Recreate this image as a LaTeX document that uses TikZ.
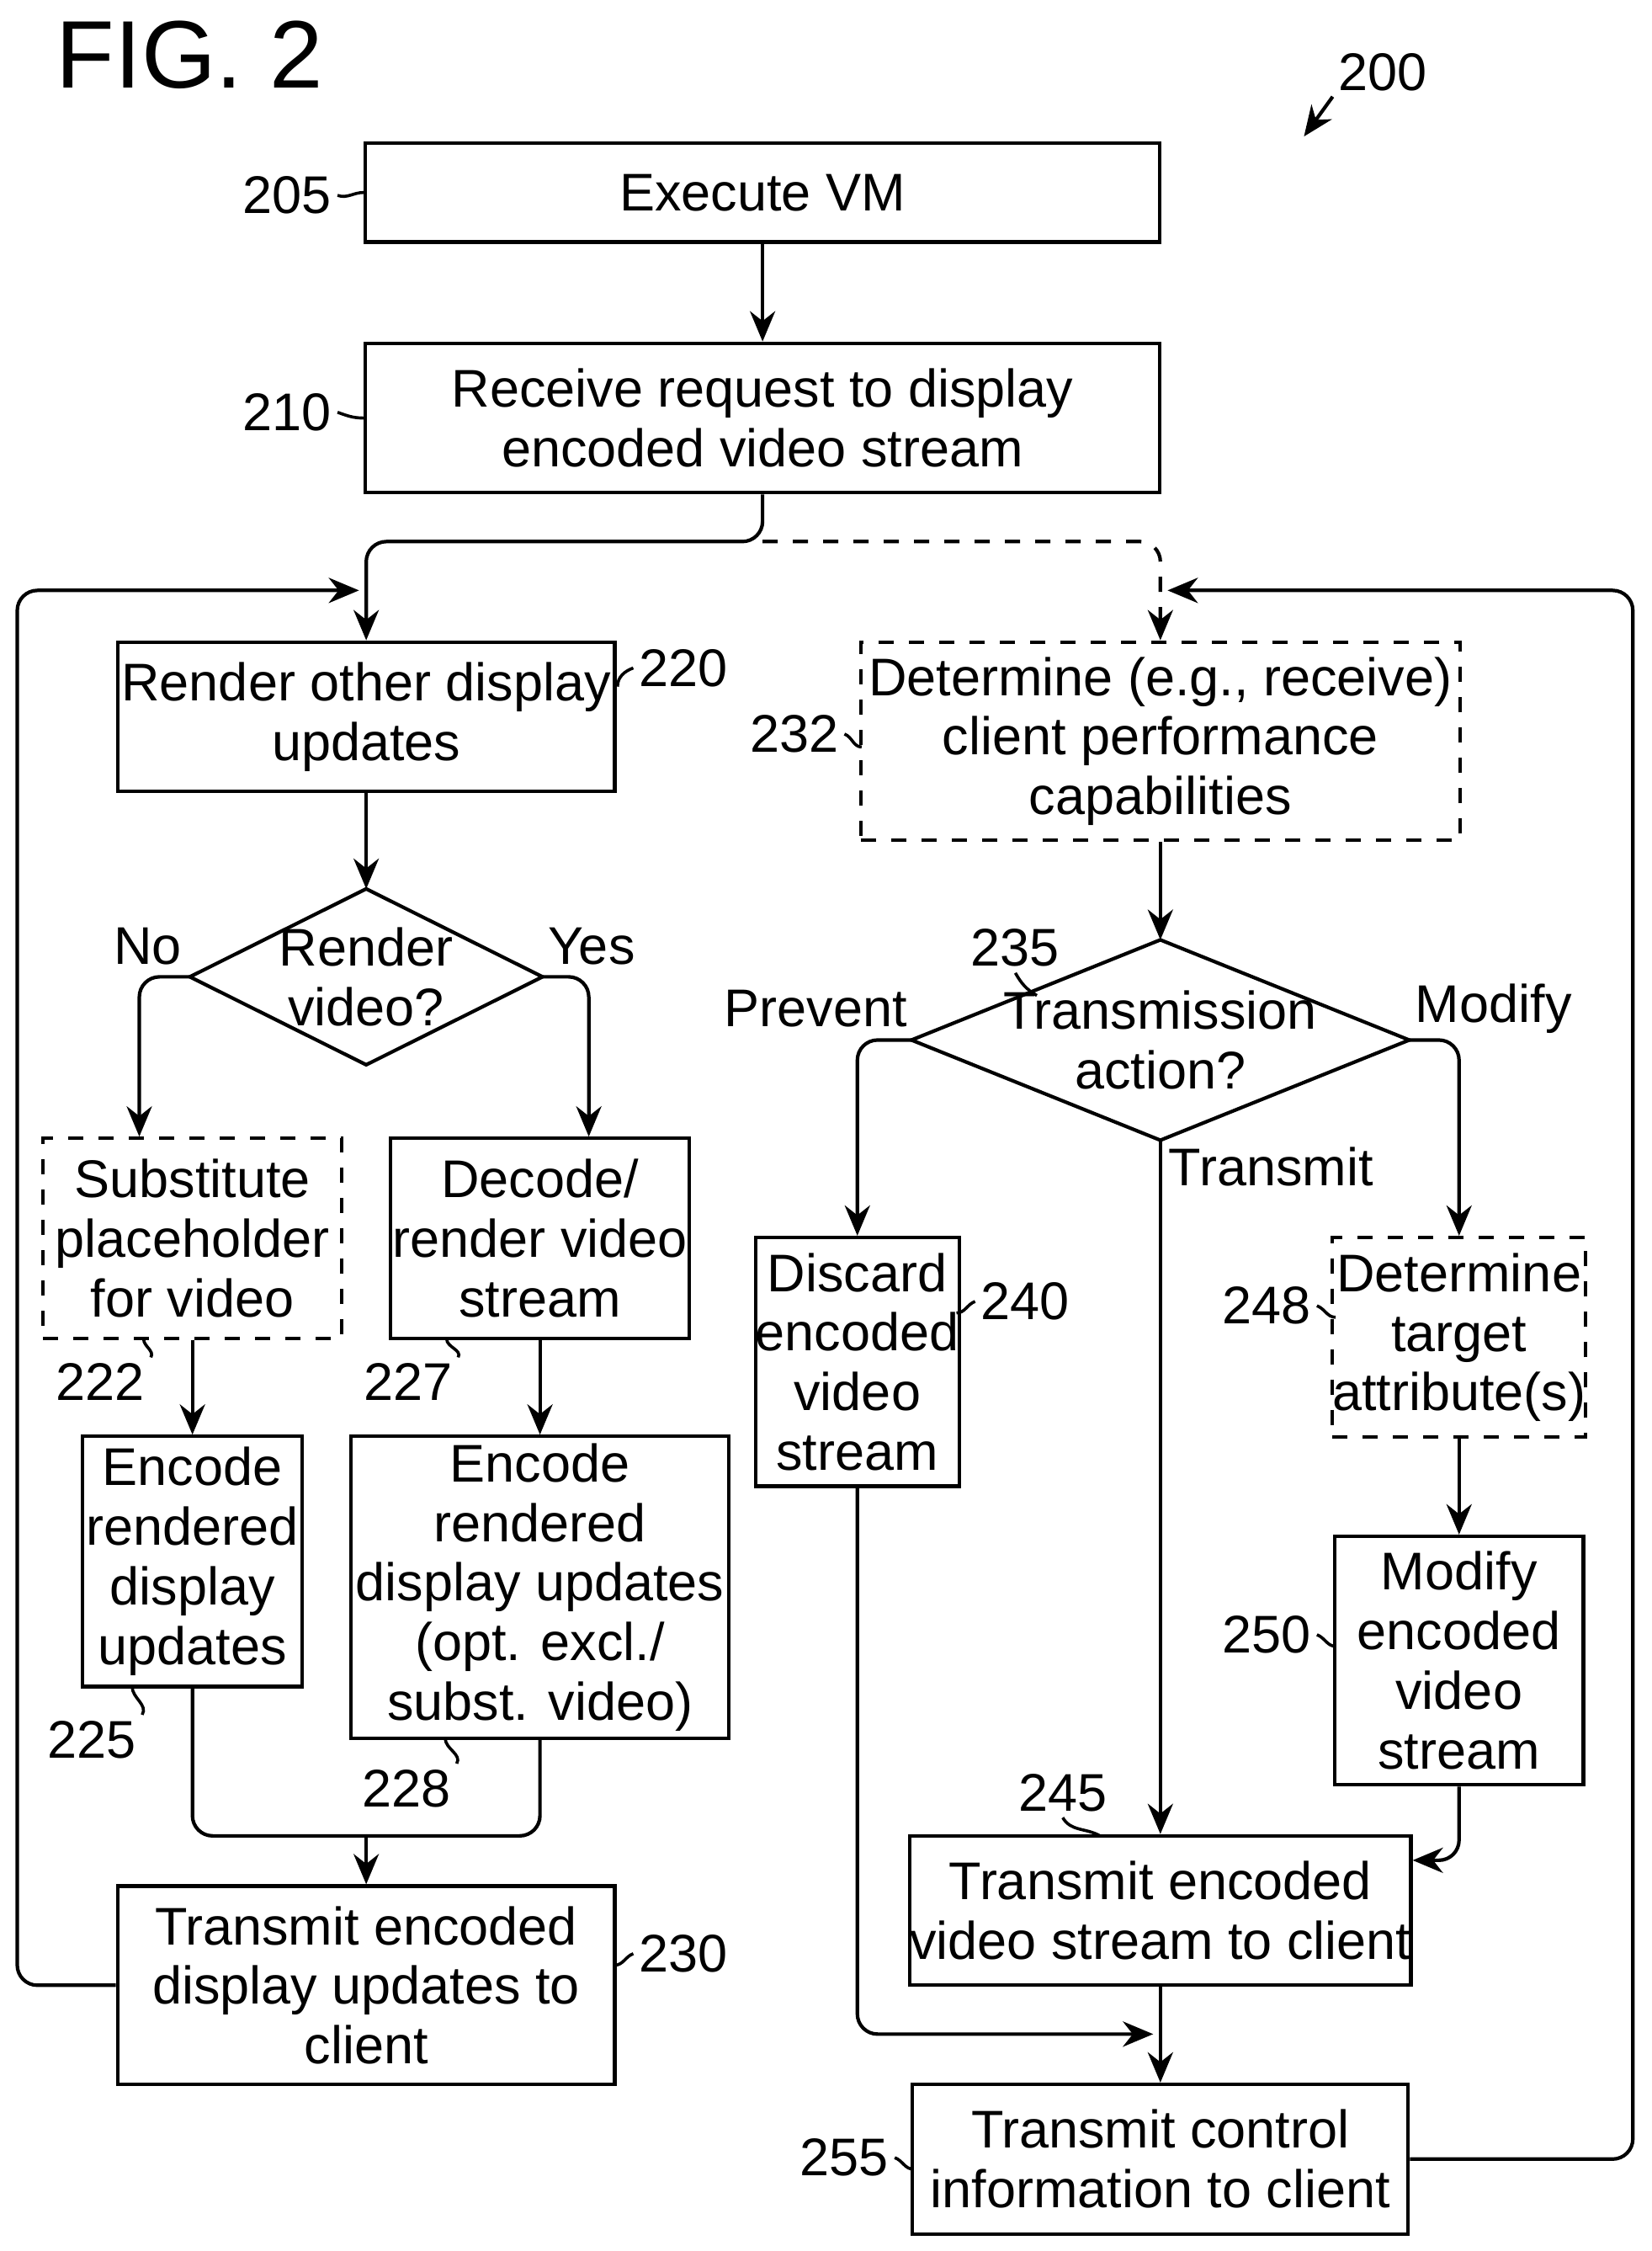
\documentclass[tikz,border=0pt]{standalone}
\usepackage{fontspec}
\setmainfont{Liberation Sans}
\usetikzlibrary{arrows.meta}
\tikzset{
  box/.style={draw,line width=0.7pt,align=center,inner sep=0pt,font=\fontsize{10.5}{11.8}\selectfont},
  dbox/.style={box,dashed},
  dec/.style={align=center,inner sep=0pt,font=\fontsize{10.5}{11.8}\selectfont},
  lbl/.style={font=\fontsize{10.5}{12}\selectfont,inner sep=1pt},
  flow/.style={line width=0.7pt,-{Stealth[length=6pt,width=5pt]},rounded corners=4pt},
  tick/.style={line width=0.6pt}
}
\begin{document}
\begin{tikzpicture}[x=0.01cm,y=-0.01cm]
\useasboundingbox (0,0) rectangle (1150,1567);
\node[font=\fontsize{19}{22}\selectfont] at (132,38) {FIG. 2};
\node[lbl] (n200) at (963,50) {200};
\draw[line width=0.7pt,-{Stealth[length=6pt,width=5pt]}] (n200.south west) -- (908,95);

% Boxes
\node[box,minimum width=5.53cm,minimum height=0.69cm] (b205) at (531,134) {Execute VM};
\node[box,minimum width=5.53cm,minimum height=1.04cm] (b210) at (531,291) {Receive request to display\\encoded video stream};
\node[box,minimum width=3.46cm,minimum height=1.04cm] (b220) at (255,499) {Render other display\\updates};
\node[dec,minimum width=2.44cm,minimum height=1.21cm] (d215) at (255,680) {Render\\video?};
\draw[line width=0.7pt] (d215.west) -- (d215.north) -- (d215.east) -- (d215.south) -- cycle;
\node[dbox,minimum width=2.08cm,minimum height=1.39cm] (b222) at (134,862) {Substitute\\placeholder\\for video};
\node[box,minimum width=2.08cm,minimum height=1.39cm] (b227) at (376,862) {Decode/\\render video\\stream};
\node[box,minimum width=1.53cm,minimum height=1.74cm] (b225) at (134,1087) {Encode\\rendered\\display\\updates};
\node[box,minimum width=2.63cm,minimum height=2.10cm] (b228) at (376,1105) {Encode\\rendered\\display updates\\(opt. excl./\\subst. video)};
\node[box,minimum width=3.46cm,minimum height=1.38cm] (b230) at (255,1382) {Transmit encoded\\display updates to\\client};
\node[dbox,minimum width=4.17cm,minimum height=1.38cm] (b232) at (808,516) {Determine (e.g., receive)\\client performance\\capabilities};
\node[dec,minimum width=3.45cm,minimum height=1.38cm] (d235) at (808,724) {Transmission\\action?};
\draw[line width=0.7pt] (d235.west) -- (d235.north) -- (d235.east) -- (d235.south) -- cycle;
\node[box,minimum width=1.38cm,minimum height=1.73cm] (b240) at (597,948) {Discard\\encoded\\video\\stream};
\node[dbox,minimum width=1.73cm,minimum height=1.39cm] (b248) at (1016,931) {Determine\\target\\attribute(s)};
\node[box,minimum width=1.73cm,minimum height=1.73cm] (b250) at (1016,1156) {Modify\\encoded\\video\\stream};
\node[box,minimum width=3.45cm,minimum height=1.04cm] (b245) at (808,1330) {Transmit encoded\\video stream to client};
\node[box,minimum width=3.45cm,minimum height=1.04cm] (b255) at (808,1503) {Transmit control\\information to client};

% Branch labels
\node[lbl] at (103,659) {No};
\node[lbl] at (412,659) {Yes};
\node[lbl] at (568,702) {Prevent};
\node[lbl] at (1040,702) {Modify};
\node[lbl] at (885,812) {Transmit};

% Reference numerals
\node[lbl] (r205) at (200,136) {205};
\draw[tick] (r205.east) to[out=-20,in=180] (b205.west);
\node[lbl] (r210) at (200,287) {210};
\draw[tick] (r210.east) to[out=-20,in=180] (b210.west);
\node[lbl] (r220) at (476,465) {220};
\draw[tick] (r220.west) to[out=200,in=90] (430,478);
\node[lbl] (r232) at (553,511) {232};
\draw[tick] (r232.east) to[out=-20,in=180] (600,520);
\node[lbl] (r222) at (70,962) {222};
\draw[tick] (r222.north east) to[out=60,in=-90] (100,932);
\node[lbl] (r227) at (284,962) {227};
\draw[tick] (r227.north east) to[out=60,in=-90] (311,932);
\node[lbl] (r225) at (64,1211) {225};
\draw[tick] (r225.north east) to[out=60,in=-90] (92,1174);
\node[lbl] (r228) at (283,1245) {228};
\draw[tick] (r228.north east) to[out=60,in=-90] (310,1210);
\node[lbl] (r230) at (476,1360) {230};
\draw[tick] (r230.west) to[out=200,in=0] (428,1368);
\node[lbl] (r235) at (707,660) {235};
\draw[tick] (r235.south) to[out=-60,in=150] (722,693);
\node[lbl] (r240) at (714,906) {240};
\draw[tick] (r240.west) to[out=200,in=0] (666,914);
\node[lbl] (r248) at (882,909) {248};
\draw[tick] (r248.east) to[out=-20,in=180] (930,917);
\node[lbl] (r250) at (882,1138) {250};
\draw[tick] (r250.east) to[out=-20,in=180] (930,1146);
\node[lbl] (r245) at (740,1248) {245};
\draw[tick] (r245.south) to[out=-60,in=150] (766,1278);
\node[lbl] (r255) at (588,1502) {255};
\draw[tick] (r255.east) to[out=-20,in=180] (636,1510);

% Connectors
\coordinate (split) at (531,377);
\draw[flow] (b205) -- (b210);
\draw[flow] (b210.south) -- (split) -| (b220.north);
\draw[flow,dashed] (split) -| (b232.north);
\draw[flow] (b230.west) -| (12,411) -- (250,411);
\draw[flow] (b255.east) -| (1137,411) -- (813,411);
\draw[flow] (b220) -- (d215);
\draw[flow] (d215.west) -| (b222.north -| 97,0);
\draw[flow] (d215.east) -| (b227.north -| 410,0);
\draw[flow] (b222) -- (b225);
\draw[flow] (b227) -- (b228);
\coordinate (join) at (255,1278);
\draw[line width=0.7pt,rounded corners=4pt] (b225.south) |- (join);
\draw[line width=0.7pt,rounded corners=4pt] (b228.south) |- (join);
\draw[flow] (join) -- (b230.north);
\draw[flow] (b232) -- (d235);
\draw[flow] (d235.west) -| (b240.north);
\draw[flow] (d235.east) -| (b248.north);
\draw[flow] (d235.south) -- (b245.north);
\draw[flow] (b248) -- (b250);
\draw[flow] (b250.south) |- (b245.east |- 0,1295);
\draw[flow] (b240.south) |- (803,1416);
\draw[flow] (b245) -- (b255);
\end{tikzpicture}
\end{document}
